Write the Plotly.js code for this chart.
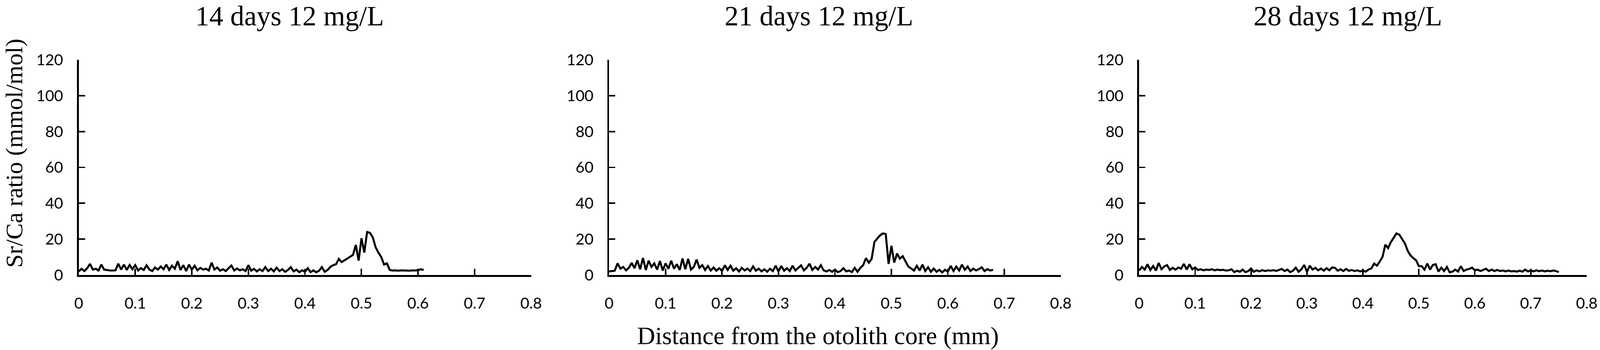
<!DOCTYPE html>
<html>
<head>
<meta charset="utf-8">
<script src="https://cdn.plot.ly/plotly-3.0.1.min.js"></script>
<style>html,body{margin:0;padding:0;background:#fff;overflow:hidden;}#chart{width:100vw;height:100vh;}</style>
</head>
<body>
<div id="chart"></div>
<script>
// Sampling interval along the transect (mm)
const STEP = 0.005;

const panelTitles = ["14 days 12 mg/L", "21 days 12 mg/L", "28 days 12 mg/L"];
const xTitle = "Distance from the otolith core (mm)";
const yTitle = "Sr/Ca ratio (mmol/mol)";
const xTicks = [0, 0.1, 0.2, 0.3, 0.4, 0.5, 0.6, 0.7, 0.8];
const xTickText = ["0", "0.1", "0.2", "0.3", "0.4", "0.5", "0.6", "0.7", "0.8"];
const yTicks = [0, 20, 40, 60, 80, 100, 120];

// Sr/Ca (mmol/mol), 14 days, 0 - 0.610 mm
const srca14 = [
  2.0,3.5,2.2,3.8,6.2,3.0,3.5,2.5,5.8,3.0,
  2.8,2.5,2.5,2.6,6.3,3.0,5.8,2.8,5.6,3.2,
  5.5,2.5,3.8,2.8,5.4,3.0,2.2,4.2,3.0,4.8,
  3.2,5.8,2.8,5.2,3.5,7.7,2.8,5.5,2.2,5.8,
  3.0,5.2,2.6,4.0,3.0,3.5,2.5,6.9,3.0,4.2,
  2.4,3.2,2.2,3.6,5.3,2.5,3.6,2.6,3.2,2.2,
  5.5,2.4,3.4,2.0,3.2,2.2,4.4,2.2,3.5,2.0,
  4.1,2.2,3.2,1.8,2.8,4.4,2.0,3.0,1.6,2.6,
  1.8,3.8,1.6,2.6,1.5,2.4,4.4,1.8,2.8,4.5,
  5.5,6.0,9.0,7.2,8.2,9.2,10.0,11.2,16.8,8.0,
  20.5,12.5,24.0,23.5,21.0,15.5,12.5,10.0,5.8,6.5,
  2.8,2.5,2.6,2.4,2.6,2.5,2.6,2.4,2.6,2.5,
  2.7,3.2,2.8
];

// Sr/Ca (mmol/mol), 21 days, 0 - 0.680 mm
const srca21 = [
  2.0,2.2,2.4,6.5,3.5,4.5,2.6,4.0,6.8,3.8,
  8.2,3.2,9.5,2.8,8.0,4.5,6.5,3.0,7.8,2.5,
  6.5,3.5,8.0,3.5,6.0,2.8,9.2,3.2,9.0,3.0,
  4.5,8.6,4.0,5.5,2.8,5.0,2.5,4.2,2.4,3.8,
  2.2,5.4,2.8,5.2,2.4,3.8,2.0,4.0,2.5,3.6,
  2.2,4.8,2.4,3.5,2.0,3.2,1.8,3.5,2.2,5.2,
  2.0,5.0,2.4,3.8,2.2,5.2,2.5,4.0,5.4,2.6,
  4.0,6.3,2.8,4.5,3.0,5.5,2.6,2.0,2.8,1.8,
  3.0,1.6,2.2,3.8,2.0,2.5,1.6,4.0,1.8,4.0,
  5.5,9.4,6.9,9.0,18.5,20.3,22.1,23.2,22.8,6.2,
  16.3,6.9,12.0,9.1,10.5,7.6,4.7,3.6,2.5,5.1,
  2.5,5.8,2.2,4.3,1.8,3.6,1.8,2.9,1.4,2.9,
  1.8,5.1,2.2,4.7,2.5,5.8,2.9,4.7,2.2,3.6,
  2.5,3.3,4.3,2.2,3.3,2.5,2.9
];

// Sr/Ca (mmol/mol), 28 days, 0 - 0.750 mm
const srca28 = [
  2.5,4.5,3.0,6.0,2.8,5.0,2.5,6.7,3.2,4.8,
  5.5,2.8,4.0,3.0,4.2,3.5,6.2,3.0,6.0,3.2,
  4.2,2.8,3.2,2.6,3.0,2.8,3.2,2.6,3.0,2.7,
  2.9,2.5,2.6,3.2,1.6,2.4,1.8,3.0,1.6,2.2,
  3.6,1.8,2.6,2.0,2.7,2.2,2.6,2.4,2.7,2.3,
  2.8,3.4,2.2,3.0,1.6,2.4,4.1,1.8,3.2,5.6,
  1.8,5.2,3.0,4.0,2.6,3.6,2.4,3.8,2.6,4.2,
  4.0,2.4,3.2,2.2,3.4,2.3,2.8,2.2,2.6,2.0,
  2.4,1.9,3.0,3.7,6.4,5.2,7.5,10.1,16.9,15.0,
  18.4,20.6,23.2,22.5,19.9,17.6,13.5,10.9,9.4,8.2,
  4.9,4.9,3.0,6.4,3.0,5.6,6.0,1.9,4.1,2.2,
  4.5,1.5,1.9,3.0,1.9,4.9,2.2,3.0,3.4,4.1,
  2.6,3.0,2.2,3.0,3.5,2.2,3.0,2.2,2.8,2.2,
  2.5,2.0,2.5,2.0,2.2,1.9,2.4,1.9,3.0,2.0,
  2.5,2.0,2.6,2.1,2.5,2.0,2.4,2.1,2.5,2.2,
  1.6
];

const series = [srca14, srca21, srca28];

// Reference frame (design size) and the actual viewport
const RW = 4350, RH = 896;
const W = window.innerWidth || RW;
const H = window.innerHeight || RH;
const s = Math.min(W / RW, H / RH);

// plot-area pixel boxes [left, right] for each panel, in reference pixels
const panelPx = [[214, 1444], [1656, 2884], [3097, 4314]];
const yTopPx = 153, yBotPx = 704;
const titleCx = [787, 2227, 3665];

const serif = "'Liberation Serif', 'Times New Roman', serif";
const tickFont = {family: "Lato, 'Liberation Sans', sans-serif", size: 42 * s, color: "#000"};

const traces = [];
series.forEach((vals, i) => {
  const n = i + 1;
  traces.push({
    type: "scatter",
    mode: "lines",
    x: vals.map((_, k) => +(k * STEP).toFixed(3)),
    y: vals,
    xaxis: n === 1 ? "x" : "x" + n,
    yaxis: n === 1 ? "y" : "y" + n,
    line: {color: "#000", width: 5.5 * s},
    hoverinfo: "skip",
    showlegend: false
  });
  // empty trace that registers the label-only overlay axes of this panel
  traces.push({
    type: "scatter", mode: "lines", x: [], y: [],
    xaxis: "x" + (n + 3), yaxis: "y" + (n + 3),
    hoverinfo: "skip", showlegend: false
  });
});

const layout = {
  width: W, height: H,
  margin: {l: 0, r: 0, t: 0, b: 0},
  paper_bgcolor: "#fff",
  plot_bgcolor: "rgba(0,0,0,0)",
  showlegend: false,
  annotations: []
};

panelPx.forEach((p, i) => {
  const n = i + 1;
  const sfx = n === 1 ? "" : String(n);
  const xId = "x" + sfx, yId = "y" + sfx;
  const xDom = [p[0] / RW, p[1] / RW];
  const yDom = [1 - yBotPx / RH, 1 - yTopPx / RH];

  // main axes: line + inside tick marks, no labels
  const marks = {
    ticks: "inside",
    ticklen: 17 * s,
    tickwidth: 4 * s,
    tickcolor: "#000",
    showline: true,
    linecolor: "#000",
    linewidth: 5 * s,
    showgrid: false,
    zeroline: false,
    automargin: false,
    showticklabels: false,
    fixedrange: true
  };
  layout["xaxis" + sfx] = Object.assign({}, marks, {
    domain: xDom, anchor: yId, range: [0, 0.8], tickvals: xTicks
  });
  layout["yaxis" + sfx] = Object.assign({}, marks, {
    domain: yDom, anchor: xId, range: [0, 120], tickvals: yTicks
  });

  // overlay axes: tick labels only, pushed out by invisible outside ticks
  const labels = {
    ticks: "outside",
    tickcolor: "rgba(0,0,0,0)",
    tickwidth: 1,
    showline: false,
    showgrid: false,
    zeroline: false,
    automargin: false,
    tickfont: tickFont,
    fixedrange: true
  };
  layout["xaxis" + (n + 3)] = Object.assign({}, labels, {
    overlaying: xId, anchor: yId, range: [0, 0.8],
    tickvals: xTicks, ticktext: xTickText, ticklen: 40 * s
  });
  layout["yaxis" + (n + 3)] = Object.assign({}, labels, {
    overlaying: yId, anchor: xId, range: [0, 120],
    tickvals: yTicks, ticklen: 33 * s
  });

  layout.annotations.push({
    text: panelTitles[i],
    xref: "paper", yref: "paper",
    x: titleCx[i] / RW, y: 1,
    xanchor: "center", yanchor: "top",
    borderpad: 0,
    showarrow: false,
    font: {family: serif, size: 76 * s, color: "#000"}
  });
});

layout.annotations.push({
  text: yTitle,
  xref: "paper", yref: "paper",
  x: 0, y: 1 - 392 / RH,
  xanchor: "left", yanchor: "middle",
  textangle: -90,
  borderpad: 0,
  showarrow: false,
  font: {family: serif, size: 66 * s, color: "#000"}
});
layout.annotations.push({
  text: xTitle,
  xref: "paper", yref: "paper",
  x: 2224 / RW, y: 0,
  xanchor: "center", yanchor: "bottom",
  borderpad: 0,
  showarrow: false,
  font: {family: serif, size: 68 * s, color: "#000"}
});

Plotly.newPlot("chart", traces, layout, {staticPlot: true, displayModeBar: false});
</script>
</body>
</html>
